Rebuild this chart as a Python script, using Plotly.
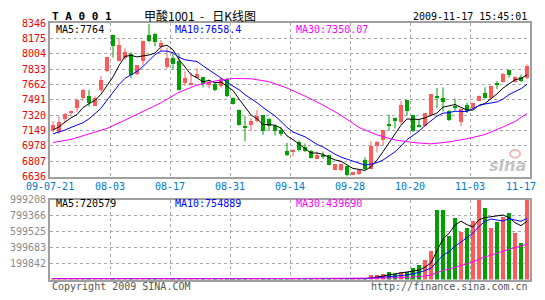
import plotly.graph_objects as go
import pandas as pd

# ---------------- data ----------------
date_labels = ["09-07-21", "08-03", "08-17", "08-31", "09-14", "09-28", "10-20", "11-03", "11-17"]

opens = [7148, 7130, 7280, 7348, 7395, 7506, 7531, 7423, 7599, 7810,
         8214, 7924, 7953, 8003, 7774, 7917, 8214, 8224, 8078, 7852,
         7960, 7917, 7674, 7656, 7738, 7745, 7649, 7667, 7638, 7720,
         7513, 7380, 7191, 7209, 7255, 7316, 7273, 7201, 7158, 6915,
         6905, 7023, 6962, 6915, 6833, 6862, 6869, 6712, 6701, 6754,
         6654, 6658, 6815, 6719, 6976, 7041, 7216, 7291, 7244, 7484,
         7316, 7212, 7201, 7320, 7531, 7513, 7370, 7416, 7244, 7430,
         7398, 7481, 7566, 7506, 7677, 7692, 7817, 7692, 7745, 7738]
highs = [7255, 7309, 7345, 7370, 7506, 7613, 7602, 7531, 7756, 7970,
         8220, 8178, 8067, 8024, 7881, 8150, 8339, 8239, 8160, 8078,
         8006, 8006, 7810, 7792, 7845, 7748, 7720, 7684, 7738, 7738,
         7520, 7385, 7309, 7291, 7380, 7320, 7291, 7219, 7183, 7012,
         6940, 7041, 7005, 6933, 6915, 6915, 6872, 6776, 6776, 6758,
         6683, 6715, 6851, 7030, 7030, 7152, 7327, 7295, 7481, 7490,
         7320, 7273, 7345, 7556, 7624, 7631, 7380, 7506, 7395, 7459,
         7462, 7540, 7631, 7642, 7702, 7792, 7827, 7756, 7774, 7888]
lows = [7130, 7112, 7244, 7309, 7362, 7481, 7416, 7423, 7577, 7800,
        7963, 7924, 7935, 7738, 7767, 7881, 8131, 8089, 8035, 7838,
        7827, 7595, 7649, 7652, 7735, 7631, 7624, 7588, 7624, 7523,
        7440, 7205, 7030, 7148, 7237, 7101, 7148, 7094, 7087, 6862,
        6862, 6915, 6910, 6837, 6830, 6833, 6760, 6708, 6697, 6636,
        6650, 6654, 6708, 6715, 6905, 6976, 7148, 7173, 7219, 7316,
        7133, 7184, 7194, 7316, 7398, 7362, 7255, 7373, 7201, 7345,
        7387, 7478, 7506, 7502, 7613, 7684, 7738, 7688, 7692, 7720]
closes = [7209, 7237, 7334, 7370, 7488, 7599, 7459, 7513, 7713, 7963,
          8089, 8096, 8024, 7767, 7878, 8146, 8146, 8131, 8124, 7960,
          7892, 7602, 7738, 7677, 7781, 7667, 7684, 7602, 7720, 7531,
          7445, 7209, 7180, 7255, 7309, 7137, 7201, 7137, 7105, 6869,
          6933, 6933, 6915, 6844, 6872, 6855, 6765, 6772, 6772, 6647,
          6679, 6712, 6715, 6976, 7019, 7148, 7201, 7252, 7427, 7362,
          7137, 7191, 7337, 7552, 7506, 7466, 7266, 7409, 7391, 7362,
          7459, 7534, 7513, 7638, 7649, 7781, 7767, 7749, 7702, 7863]
volumes = [12000, 9000, 14000, 11000, 13000, 10000, 15000, 12000, 9000, 14000,
           13000, 11000, 10000, 15000, 12000, 9000, 13000, 11000, 14000, 10000,
           12000, 15000, 9000, 13000, 11000, 12000, 10000, 14000, 9000, 13000,
           12000, 11000, 15000, 10000, 13000, 9000, 12000, 14000, 11000, 13000,
           10000, 12000, 9000, 14000, 11000, 12000, 13000, 12000, 12000, 12000,
           12000, 12000, 12000, 60195, 60000, 72234, 96312, 72000, 96000, 96000,
           148481, 180585, 252819, 361170, 870821, 878847, 541755, 770496, 601950, 650106,
           734379, 999208, 902925, 642080, 722340, 782535, 830691, 589911, 457482, 999208]

# moving averages of the first days (they depend on days before the window)
ma5_head = [7155, 7191, 7244, 7291]
ma10_head = [7112, 7130, 7155, 7184, 7212, 7237, 7280, 7334, 7398]
# MA30 at these candle indices
ma30_idx = [0, 3, 6, 9, 12, 15, 18, 21, 24, 27, 30, 33, 36, 39, 42, 45, 48, 51,
            54, 57, 60, 63, 66, 69, 72, 75, 77, 79]
ma30_val = [7016, 7051, 7112, 7173, 7266, 7363, 7459, 7577, 7656, 7702, 7731, 7727,
            7695, 7624, 7534, 7434, 7320, 7184, 7101, 7044, 7016, 7001, 7023, 7058,
            7105, 7190, 7250, 7340]

price_ticks = [6636, 6807, 6978, 7149, 7320, 7491, 7662, 7833, 8004, 8175, 8346]
vol_ticks = [199842, 399683, 599525, 799366, 999208]

code_title = "T A 0 0 1"
name_title = "甲酸1001 - 日K线图"
stamp = "2009-11-17 15:45:01"
price_ma_texts = ["MA5:7764", "MA10:7658.4", "MA30:7350.07"]
vol_ma_texts = ["MA5:720579", "MA10:754889", "MA30:439690"]
copyright_text = "Copyright 2009 SINA.COM"
url_text = "http://finance.sina.com.cn"

# ---------------- styling ----------------
W, H = 545, 300
RED = "#FF5A5A"
GREEN = "#00A000"
MA_COLORS = ["#000000", "#0000FF", "#FF00FF"]
GRID = "#A8A8A8"
FRAME = "#A0A0A0"
MONO = "DejaVu Sans Mono"
NBSP = "\u00a0"


def px(x):
    return x / W


def py(y):
    return 1 - y / H


n = len(closes)
idx = list(range(n))
up = [i for i in idx if closes[i] >= opens[i]]
dn = [i for i in idx if closes[i] < opens[i]]

c = pd.Series(closes, dtype=float)
ma5 = c.rolling(5).mean()
ma5.iloc[:len(ma5_head)] = ma5_head
ma10 = c.rolling(10).mean()
ma10.iloc[:len(ma10_head)] = ma10_head

v = pd.Series(volumes, dtype=float)
vma = [v.rolling(k, min_periods=1).mean() for k in (5, 10, 30)]

fig = go.Figure()


def wicks(ids):
    xs, ys = [], []
    for i in ids:
        xs += [i, i, None]
        ys += [lows[i], highs[i], None]
    return xs, ys


for ids, col in ((up, RED), (dn, GREEN)):
    xs, ys = wicks(ids)
    fig.add_trace(go.Scatter(x=xs, y=ys, mode="lines", line=dict(color=col, width=1),
                             xaxis="x", yaxis="y", hoverinfo="skip"))
    fig.add_trace(go.Bar(x=ids,
                         y=[max(abs(closes[i] - opens[i]), 10) for i in ids],
                         base=[min(opens[i], closes[i]) for i in ids],
                         width=0.72, marker=dict(color=col, line=dict(width=0)),
                         xaxis="x", yaxis="y"))

fig.add_trace(go.Scatter(x=idx, y=ma5, mode="lines", line=dict(color=MA_COLORS[0], width=1),
                         xaxis="x", yaxis="y"))
fig.add_trace(go.Scatter(x=idx, y=ma10, mode="lines", line=dict(color=MA_COLORS[1], width=1),
                         xaxis="x", yaxis="y"))
fig.add_trace(go.Scatter(x=ma30_idx, y=ma30_val, mode="lines", line=dict(color=MA_COLORS[2], width=1),
                         xaxis="x", yaxis="y"))

# volume
fig.add_trace(go.Bar(x=idx, y=volumes, width=0.83,
                     marker=dict(color=[RED if closes[i] >= opens[i] else GREEN for i in idx],
                                 line=dict(width=0)),
                     xaxis="x2", yaxis="y2"))
for s, col in zip(vma, MA_COLORS):
    fig.add_trace(go.Scatter(x=idx, y=s, mode="lines", line=dict(color=col, width=1),
                             xaxis="x2", yaxis="y2"))

tick_pos = [-0.5 + 10 * k for k in range(len(date_labels))]
xdom = [px(50), px(530)]

axis_common = dict(showline=True, mirror=True, linecolor=FRAME, linewidth=2,
                   showgrid=True, gridcolor=GRID, griddash="dot", gridwidth=1,
                   zeroline=False, ticks="", fixedrange=True)

fig.update_layout(
    width=W, height=H, margin=dict(l=0, r=0, t=0, b=0),
    paper_bgcolor="white", plot_bgcolor="white", showlegend=False,
    barmode="overlay", bargap=0,
    xaxis=dict(domain=xdom, range=[-0.5, n - 0.5], tickvals=tick_pos, showticklabels=False,
               anchor="y", **axis_common),
    yaxis=dict(domain=[py(177.7), py(18)], range=[price_ticks[0], price_ticks[-1]],
               tickvals=price_ticks, ticktext=[str(t) for t in price_ticks],
               tickfont=dict(family=MONO, size=10, color="#EE0000"),
               anchor="x", **axis_common),
    xaxis2=dict(domain=xdom, range=[-0.5, n - 0.5], tickvals=tick_pos, showticklabels=False,
                anchor="y2", **axis_common),
    yaxis2=dict(domain=[py(285), py(202)], range=[0, vol_ticks[-1]],
                tickvals=vol_ticks, ticktext=[str(t) for t in vol_ticks],
                tickfont=dict(family=MONO, size=10, color="#8A8A8A"),
                anchor="x2", **axis_common),
)

ann = []
for k, (pos, lab) in enumerate(zip(tick_pos, date_labels)):
    ann.append(dict(x=pos, y=py(188), xref="x", yref="paper", text=lab, showarrow=False,
                    xanchor="center", yanchor="middle",
                    xshift=-9 if k == len(date_labels) - 1 else 0,
                    font=dict(family=MONO, size=10, color="#0078D0")))

for text, xpos, col in zip(price_ma_texts, (54, 173, 294), MA_COLORS):
    ann.append(dict(x=px(xpos), y=py(24.5), xref="paper", yref="paper", text=text, showarrow=False,
                    xanchor="left", yanchor="middle", font=dict(family=MONO, size=10, color=col)))
for text, xpos, col in zip(vol_ma_texts, (54, 173, 294), MA_COLORS):
    ann.append(dict(x=px(xpos), y=py(206), xref="paper", yref="paper", text=text, showarrow=False,
                    xanchor="left", yanchor="middle", font=dict(family=MONO, size=10, color=col)))

ann.append(dict(x=px(50), y=py(11), xref="paper", yref="paper", text="<b>" + code_title + "</b>",
                showarrow=False, xanchor="left", yanchor="middle",
                font=dict(family=MONO, size=11, color="#000000")))
ann.append(dict(x=px(200), y=py(10), xref="paper", yref="paper",
                text=name_title.replace(" - ", NBSP * 2 + "-" + NBSP * 3),
                showarrow=False, xanchor="center", yanchor="middle",
                font=dict(family="Noto Sans CJK SC", size=12, color="#000000")))
ann.append(dict(x=px(529), y=py(11), xref="paper", yref="paper", text=stamp,
                showarrow=False, xanchor="right", yanchor="middle",
                font=dict(family=MONO, size=10, color="#000000")))
ann.append(dict(x=px(50), y=py(292.5), xref="paper", yref="paper", text=copyright_text,
                showarrow=False, xanchor="left", yanchor="middle",
                font=dict(family=MONO, size=10, color="#555555")))
ann.append(dict(x=px(530), y=py(292.5), xref="paper", yref="paper", text=url_text,
                showarrow=False, xanchor="right", yanchor="middle",
                font=dict(family=MONO, size=10, color="#555555")))
ann.append(dict(x=px(528), y=py(166), xref="paper", yref="paper", text="<b><i>sina</i></b>",
                showarrow=False, xanchor="right", yanchor="middle",
                font=dict(family="DejaVu Sans", size=16, color="#C4C4C4")))
fig.update_layout(annotations=ann)

# small pink "eye" of the watermark logo
fig.add_shape(type="circle", xref="paper", yref="paper",
              x0=px(510), x1=px(520), y0=py(158), y1=py(150),
              line=dict(color="#F2B8B8", width=2))

fig.write_html("out.html")
